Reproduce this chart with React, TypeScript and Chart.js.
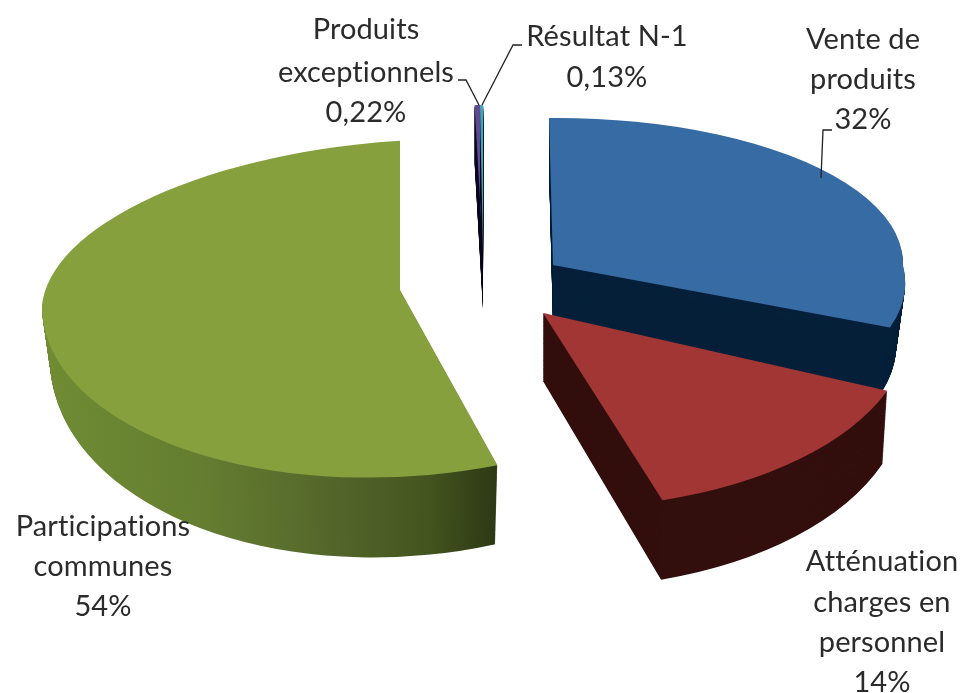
import React, { useEffect, useRef } from "react";
import { Chart, registerables } from "chart.js";

Chart.register(...registerables);

const categories = ["Vente de produits", "Atténuation charges en personnel", "Participations communes", "Produits exceptionnels", "Résultat N-1"];
const values = [32, 14, 54, 0.22, 0.13];
const valueLabels = ["32%", "14%", "54%", "0,22%", "0,13%"];
const topColors = ["#376ba4", "#a23635", "#85a03d", "#60498c", "#3fa6c0"];
const sideColors = ["#06203a", "#330f0d", "green", "#0d0a22", "#050a18"];

// 3D projection of each slice (apex, radii, shear, tilt, wall height, wall taper)
const shapes = [
  { ax: 553, ay: 265, rx: 350, ryUp: 147, ryDown: 157, sUp: -4, sDown: 40, tilt: 0, d0: 60, extra: 12, taper: -9, wallUp: true },
  { ax: 543, ay: 313, rx: 368, ryUp: 150, ryDown: 195, sUp: 0, sDown: 17, tilt: 0, d0: 68, extra: 12, taper: -5, wallUp: true },
  { ax: 400, ay: 290, rx: 358, ryUp: 150, ryDown: 187, sUp: -16, sDown: -3, tilt: -15, d0: 52, extra: 28, taper: -8, wallUp: false },
  { ax: 483, ay: 252, rx: 390, ryUp: 147, ryDown: 150, sUp: -9, sDown: 0, tilt: 0, d0: 58, extra: 0, taper: 0, wallUp: true },
  { ax: 483, ay: 252, rx: 390, ryUp: 147, ryDown: 150, sUp: -9, sDown: 0, tilt: 0, d0: 58, extra: 0, taper: 0, wallUp: true },
];
const drawOrder = [0, 3, 4, 1, 2];

const labelLayout = [
  { x: 863, ys: [40, 80], vy: 120, lines: ["Vente de", "produits"] },
  { x: 882, ys: [562, 603, 643], vy: 683, lines: ["Atténuation", "charges en", "personnel"] },
  { x: 103, ys: [527, 567], vy: 607, lines: ["Participations", "communes"] },
  { x: 366, ys: [30, 73], vy: 113, lines: ["Produits", "exceptionnels"] },
  { x: 607, ys: [37], vy: 78, lines: ["Résultat N-1"] },
];
const leaders = [
  [[832, 130], [823, 130], [821, 178]],
  [[458, 80], [466, 80], [479, 105]],
  [[522, 45], [513, 45], [482, 105]],
];

function drawPiece(ctx: any, arc: any, s: any, t: number, fill: any) {
  const R = arc.outerRadius;
  const orig = arc.options;
  arc.options = new Proxy(orig, { get: (o: any, k: any) => (k === "backgroundColor" ? fill : o[k]) });
  const yCut = s.ay + s.d0 * t;
  const rx = s.rx + s.taper * t;
  const isTop = t === 0;
  // lower half
  ctx.save();
  ctx.translate(s.ax, yCut);
  ctx.transform(rx / R, s.tilt / R, s.sDown / R, (s.ryDown + s.extra * t) / R, 0, 0);
  ctx.translate(-arc.x, -arc.y);
  ctx.beginPath();
  ctx.rect(arc.x - 2 * R, arc.y - 1, 4 * R, 2 * R);
  ctx.clip();
  arc.draw(ctx);
  ctx.restore();
  // upper half
  if (isTop || s.wallUp) {
    ctx.save();
    ctx.translate(s.ax, yCut);
    ctx.transform(rx / R, s.tilt / R, s.sUp / R, s.ryUp / R, 0, 0);
    ctx.translate(-arc.x, -arc.y);
    ctx.beginPath();
    ctx.rect(arc.x - 2 * R, arc.y - 2 * R, 4 * R, 2 * R + 1);
    ctx.clip();
    arc.draw(ctx);
    ctx.restore();
  }
  arc.options = orig;
}

const pie3d = {
  id: "pie3d",
  beforeDatasetsDraw(chart: any) {
    const ctx = chart.ctx;
    const arcs = chart.getDatasetMeta(0).data;
    for (const i of drawOrder) {
      const arc = arcs[i];
      const s = shapes[i];
      let side: any = sideColors[i];
      if (side === "green") {
        const R = arc.outerRadius;
        const toChart = (px: number) => arc.x + ((px - s.ax) * R) / s.rx;
        const g = ctx.createLinearGradient(toChart(45), 0, toChart(500), 0);
        g.addColorStop(0, "#6f8c34");
        g.addColorStop(0.35, "#647d30");
        g.addColorStop(0.6, "#56692c");
        g.addColorStop(0.85, "#44541f");
        g.addColorStop(1, "#2d3914");
        side = g;
      }
      const steps = Math.round(s.d0 + s.extra);
      for (let k = steps; k >= 1; k--) {
        drawPiece(ctx, arc, s, k / steps, side);
      }
      drawPiece(ctx, arc, s, 0, topColors[i]);
    }
    return false;
  },
  afterDraw(chart: any) {
    const ctx = chart.ctx;
    ctx.save();
    ctx.strokeStyle = "#222222";
    ctx.lineWidth = 1.3;
    for (const l of leaders) {
      ctx.beginPath();
      l.forEach((p, i) => (i ? ctx.lineTo(p[0], p[1]) : ctx.moveTo(p[0], p[1])));
      ctx.stroke();
    }
    ctx.fillStyle = "#2b2b2b";
    ctx.font = "29px Lato";
    ctx.textAlign = "center";
    ctx.textBaseline = "middle";
    ctx.letterSpacing = "0.1px";
    labelLayout.forEach((l, i) => {
      l.lines.forEach((t, j) => {
        ctx.fillText(t, l.x, l.ys[j]);
      });
      ctx.fillText(valueLabels[i], l.x, l.vy);
    });
    ctx.restore();
  },
};

export default function App() {
  const ref = useRef<HTMLCanvasElement>(null);
  useEffect(() => {
    document.body.style.margin = "0";
    document.body.style.background = "#ffffff";
    const chart = new Chart(ref.current!, {
      type: "pie",
      data: {
        labels: categories,
        datasets: [{ data: values, backgroundColor: topColors, borderWidth: 0 }],
      },
      options: {
        responsive: false,
        animation: false,
        rotation: -1.3,
        devicePixelRatio: 1,
        plugins: { legend: { display: false }, tooltip: { enabled: false } },
      },
      plugins: [pie3d],
    } as any);
    return () => chart.destroy();
  }, []);
  return <canvas ref={ref} width={966} height={693} style={{ display: "block" }} />;
}
